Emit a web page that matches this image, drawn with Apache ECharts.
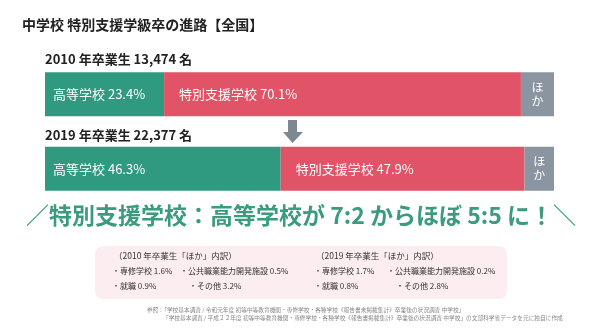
<!DOCTYPE html>
<html><head><meta charset="utf-8">
<script src="https://cdn.jsdelivr.net/npm/echarts@6/dist/echarts.min.js"></script>
<style>html,body{margin:0;padding:0;background:#fff}#c{width:600px;height:334px}</style>
</head><body><div id="c"></div>
<script>
const years = ['2010', '2019'];
const graduates = [13474, 22377];
const highSchool = [23.4, 46.3];
const specialSchool = [70.1, 47.9];
const other = [6.5, 5.8];
const seriesNames = ['高等学校', '特別支援学校', 'ほか'];
const breakdownLabels = ['専修学校', '公共職業能力開発施設', '就職', 'その他'];
const breakdown2010 = [1.6, 0.5, 0.9, 3.2];
const breakdown2019 = [1.7, 0.2, 0.8, 2.8];

const FONT = '"Noto Sans CJK JP", "Noto Sans", sans-serif';
const GREEN = '#2f9a7f', RED = '#e15366', GRAY = '#8a95a1';
const chart = echarts.init(document.getElementById('c'), null, {renderer: 'canvas'});

function yearLabel(i) {
  return years[i] + ' 年卒業生 ' + graduates[i].toLocaleString('en-US') + ' 名';
}
function boxText(year, vals, x, colX2) {
  const t = {fontFamily: FONT, fontSize: 8, fill: '#333'};
  return [
    {type: 'text', left: x + 2, top: 252, style: Object.assign({text: '（' + year + ' 年卒業生「ほか」内訳）'}, t, {fontSize: 8.5})},
    {type: 'text', left: x, top: 267, style: Object.assign({text: '・' + breakdownLabels[0] + ' ' + vals[0] + '%'}, t)},
    {type: 'text', left: colX2, top: 267, style: Object.assign({text: '・' + breakdownLabels[1] + ' ' + vals[1] + '%'}, t)},
    {type: 'text', left: x, top: 282, style: Object.assign({text: '・' + breakdownLabels[2] + ' ' + vals[2] + '%'}, t)},
    {type: 'text', left: colX2 + 9, top: 282, style: Object.assign({text: '・' + breakdownLabels[3] + ' ' + vals[3] + '%'}, t)}
  ];
}

const labelBase = {show: true, color: '#fff', fontFamily: FONT, fontSize: 13};
chart.setOption({
  backgroundColor: '#fff',
  animation: false,
  grid: {left: 45, right: 46, top: 57, height: 149},
  xAxis: {type: 'value', min: 0, max: 100, show: false},
  yAxis: {type: 'category', data: years, inverse: true, show: false},
  series: [
    {name: seriesNames[0], type: 'bar', stack: 's', data: highSchool, barWidth: 44,
     itemStyle: {color: GREEN},
     label: Object.assign({position: 'insideLeft', distance: 8,
       formatter: p => seriesNames[0] + ' ' + p.value + '%'}, labelBase)},
    {name: seriesNames[1], type: 'bar', stack: 's', data: specialSchool, barWidth: 44,
     itemStyle: {color: RED},
     label: Object.assign({position: 'insideLeft', distance: 15,
       formatter: p => seriesNames[1] + ' ' + p.value + '%'}, labelBase)},
    {name: seriesNames[2], type: 'bar', stack: 's', data: other, barWidth: 44,
     itemStyle: {color: GRAY},
     label: Object.assign({}, labelBase, {position: 'inside', fontSize: 12, lineHeight: 14,
       formatter: 'ほ\nか'})}
  ],
  graphic: [
    {type: 'text', left: 22, top: 18, style: {text: '中学校 特別支援学級卒の進路【全国】', fontFamily: FONT, fontSize: 14, fontWeight: 'bold', fill: '#222'}},
    {type: 'text', left: 45, top: 53, style: {text: yearLabel(0), fontFamily: FONT, fontSize: 13, fontWeight: 'bold', fill: '#222'}},
    {type: 'text', left: 45, top: 129, style: {text: yearLabel(1), fontFamily: FONT, fontSize: 13, fontWeight: 'bold', fill: '#222'}},
    {type: 'polygon', shape: {points: [[288,120],[297,120],[297,132],[303,132],[292.5,143],[283,132],[288,132]]}, style: {fill: '#7e8892'}},
    {type: 'text', x: 301, y: 215, style: {text: '／特別支援学校：高等学校が 7:2 からほぼ 5:5 に！＼', fontFamily: FONT, fontSize: 23, fontWeight: 'bold', fill: '#3a9b7d', align: 'center', verticalAlign: 'middle'}},
    {type: 'rect', shape: {x: 95, y: 246, width: 412, height: 53, r: 8}, style: {fill: '#fcedf0'}},
    ...boxText(years[0], breakdown2010, 112, 180),
    ...boxText(years[1], breakdown2019, 314, 387),
    {type: 'text', left: 147, top: 307, style: {text: '参照：「学校基本調査 / 令和元年度 初等中等教育機関・専修学校・各種学校《報告書未掲載集計》卒業後の状況調査 中学校」', fontFamily: FONT, fontSize: 5.7, fill: '#888'}},
    {type: 'text', left: 163, top: 315, style: {text: '「学校基本調査 / 平成２２年度 初等中等教育機関・専修学校・各種学校《報告書掲載集計》卒業後の状況調査 中学校」の文部科学省データを元に独自に作成', fontFamily: FONT, fontSize: 5.7, fill: '#888'}}
  ]
});
</script></body></html>
